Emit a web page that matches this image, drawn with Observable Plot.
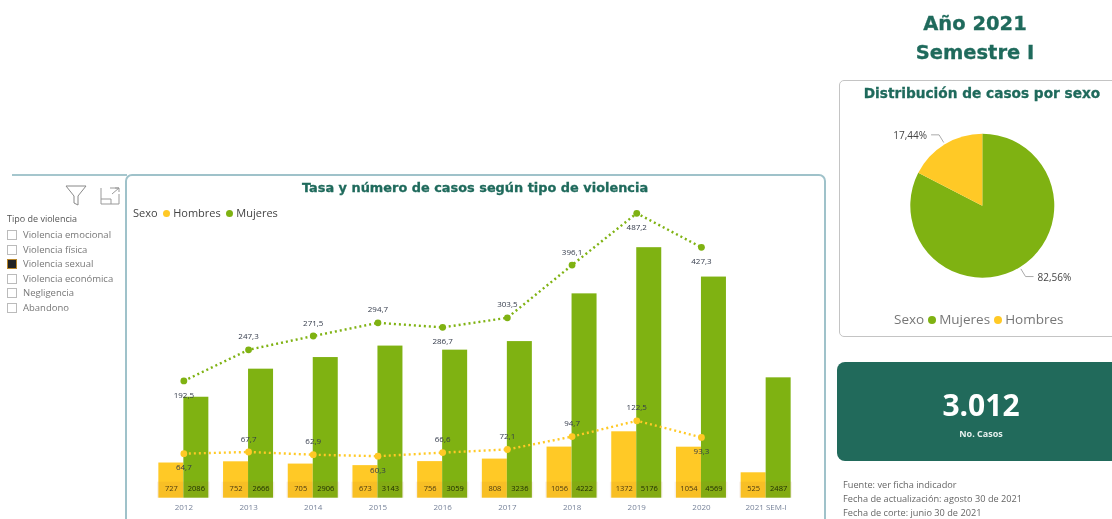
<!DOCTYPE html>
<html lang="es"><head><meta charset="utf-8">
<script src="https://cdn.jsdelivr.net/npm/d3@7"></script>
<script src="https://cdn.jsdelivr.net/npm/@observablehq/plot@0.6"></script>
<style>
html,body{margin:0;padding:0;width:1112px;height:519px;overflow:hidden;background:#fff}
#page{position:absolute;left:0;top:0;width:1112px;height:519px;overflow:hidden;filter:blur(.45px);font-family:"Open Sans",sans-serif}
.abs{position:absolute;white-space:nowrap}
.head{font-family:"DejaVu Sans",sans-serif;font-weight:700;color:#1f6a5c;transform:translateX(-50%);-webkit-text-stroke:.3px #1f6a5c}
.dot{display:inline-block;border-radius:50%;vertical-align:0}
.box{position:absolute;left:7px;width:8px;height:8px;border:1px solid #bbb;background:#fff}
</style></head><body><div id="page"></div>
<script>
const years = ["2012","2013","2014","2015","2016","2017","2018","2019","2020","2021 SEM-I"];
const casosHombres = [727,752,705,673,756,808,1056,1372,1054,525];
const casosMujeres = [2086,2666,2906,3143,3059,3236,4222,5176,4569,2487];
const tasaYears = years.slice(0,9);
const tasaHombres = [64.7,67.7,62.9,60.3,66.6,72.1,94.7,122.5,93.3];
const tasaMujeres = [192.5,247.3,271.5,294.7,286.7,303.5,396.1,487.2,427.3];
const hombresDebajo = ["2012","2015","2020"];
const mujeresDebajo = ["2012","2016","2019","2020"];
const sexos = ["Mujeres","Hombres"];
const pieValues = [82.56,17.44];
const pieLabels = ["82,56%","17,44%"];
const tipos = ["Violencia emocional","Violencia física","Violencia sexual","Violencia económica","Negligencia","Abandono"];
const tipoActivo = "Violencia sexual";
const notas = ["Fuente: ver ficha indicador","Fecha de actualización: agosto 30 de 2021","Fecha de corte: junio 30 de 2021"];
const VERDE="#7fb212", AMARILLO="#ffc926", TEAL="#216a5b";

const page=document.getElementById("page");
function add(html,style,cls="abs"){const d=document.createElement("div");d.className=cls;d.style.cssText=style;d.innerHTML=html;page.appendChild(d);return d;}
const fmt=v=>v.toFixed(1).replace(".",",");
const plotStyle={position:"absolute",left:"0",top:"0",background:"transparent",fontFamily:"'Open Sans',sans-serif"};

// frames
add("","left:12px;top:174px;width:115px;height:0;border-top:2px solid #a5c6cd");
add("","left:125px;top:174px;width:697px;height:400px;border:2px solid #9fc2ca;border-radius:7px;box-sizing:content-box");
add("","left:839px;top:80px;width:320px;height:255px;border:1.5px solid #c4c4c4;border-radius:5px");
add("","left:837px;top:362px;width:320px;height:99px;background:"+TEAL+";border-radius:8px");

// bars
const W=1112,H=519,L=151,R=1112-798;
const cases=years.flatMap((y,i)=>[{y,sexo:"Hombres",v:casosHombres[i]},{y,sexo:"Mujeres",v:casosMujeres[i]}]);
const xOpts={type:"band",domain:years,padding:0,round:false,axis:null};
const barPlot=Plot.plot({width:W,height:H,marginLeft:L,marginRight:R,marginTop:0,marginBottom:0,
  style:plotStyle,
  x:xOpts,
  y:{domain:[0,6151],range:[497.7,200],axis:null},
  marks:[
    Plot.barY(cases.filter(d=>d.sexo==="Hombres"),{x:"y",y:"v",fill:AMARILLO,insetLeft:7.35,insetRight:32.35}),
    Plot.barY(cases.filter(d=>d.sexo==="Mujeres"),{x:"y",y:"v",fill:VERDE,insetLeft:32.35,insetRight:7.35}),
    Plot.barY(years,{x:d=>d,y:()=>330,fill:"#b0601f",fillOpacity:.09,insetLeft:6,insetRight:6}),
    Plot.text(cases.filter(d=>d.sexo==="Hombres"),{x:"y",y:()=>0,text:d=>String(d.v),dx:-12.5,dy:-9.5,fontSize:7.5,fill:"#4a3a10"}),
    Plot.text(cases.filter(d=>d.sexo==="Mujeres"),{x:"y",y:()=>0,text:d=>String(d.v),dx:12.5,dy:-9.5,fontSize:7.5,fill:"#1d2a05"}),
    Plot.text(years,{x:d=>d,y:()=>0,text:d=>d,dy:9,fontSize:8,fill:"#77839a"})
  ]});
page.appendChild(barPlot);

// rates
const tasaH=tasaYears.map((y,i)=>({y,v:tasaHombres[i]}));
const tasaM=tasaYears.map((y,i)=>({y,v:tasaMujeres[i]}));
const lbl=(data,below)=>[
  Plot.text(data.filter(d=>!below.includes(d.y)),{x:"y",y:"v",text:d=>fmt(d.v),dy:-13,fontSize:8,fill:"#333a4a"}),
  Plot.text(data.filter(d=>below.includes(d.y)),{x:"y",y:"v",text:d=>fmt(d.v),dy:14,fontSize:8,fill:"#333a4a"})
];
const linePlot=Plot.plot({width:W,height:H,marginLeft:L,marginRight:R,marginTop:0,marginBottom:0,
  style:plotStyle,
  x:xOpts,
  y:{domain:[0,500],range:[490,205.5],axis:null},
  marks:[
    Plot.line(tasaH,{x:"y",y:"v",stroke:AMARILLO,strokeWidth:2.4,strokeDasharray:"2 3",strokeLinecap:"butt"}),
    Plot.dot(tasaH,{x:"y",y:"v",r:3.4,fill:AMARILLO}),
    Plot.line(tasaM,{x:"y",y:"v",stroke:VERDE,strokeWidth:2.4,strokeDasharray:"2 3",strokeLinecap:"butt"}),
    Plot.dot(tasaM,{x:"y",y:"v",r:3.4,fill:VERDE}),
    ...lbl(tasaH,hombresDebajo),
    ...lbl(tasaM,mujeresDebajo)
  ]});
page.appendChild(linePlot);

// pie
const pieColors={Mujeres:VERDE,Hombres:AMARILLO};
const pieMark=()=>{
  const cx=982.3,cy=205.7,r=72;
  const g=d3.create("svg:g").attr("transform",`translate(${cx},${cy})`);
  const arcs=d3.pie().sort(null)(pieValues);
  const arc=d3.arc().innerRadius(0).outerRadius(r);
  arcs.forEach((a,i)=>{
    g.append("path").attr("d",arc(a)).attr("fill",pieColors[sexos[i]]);
    const m=(a.startAngle+a.endAngle)/2,sx=Math.sin(m),cy_=-Math.cos(m),side=sx>0?1:-1;
    const px=sx*(r+2),py=cy_*(r+2),ex=sx*(r+11),ey=cy_*(r+11);
    g.append("path").attr("d",`M${px},${py}L${ex},${ey}h${side*8}`).attr("fill","none").attr("stroke","#aaa").attr("stroke-width",1);
    g.append("text").attr("x",ex+side*12).attr("y",ey+4).attr("text-anchor",side>0?"start":"end")
      .attr("font-size",10).attr("fill","#444").text(pieLabels[i]);
  });
  return g.node();
};
page.appendChild(Plot.plot({width:W,height:H,margin:0,style:plotStyle,x:{axis:null},y:{axis:null},marks:[pieMark]}));

// text
add("Año 2021","left:975px;top:12px;font-size:19.5px;line-height:24px","abs head");
add("Semestre I","left:975px;top:41px;font-size:19.5px;line-height:24px","abs head");
add("Distribución de casos por sexo","left:982px;top:84px;font-size:13.7px;line-height:18px","abs head");
add("Tasa y número de casos según tipo de violencia","left:475px;top:179px;font-size:12.9px;line-height:17px","abs head");
const dot=(c,s)=>`<span class="dot" style="width:${s}px;height:${s}px;background:${c}"></span>`;
add(`Sexo&nbsp; ${dot(AMARILLO,7)} Hombres&nbsp; ${dot(VERDE,7)} Mujeres`,"left:133px;top:206px;font-size:11px;line-height:14px;color:#444");
add(`Sexo ${dot(VERDE,8)} ${sexos[0]} ${dot(AMARILLO,8)} ${sexos[1]}`,"left:894px;top:310px;font-size:13.5px;line-height:18px;color:#777");
add("3.012","left:981px;top:385px;transform:translateX(-50%);font-size:30px;line-height:40px;font-weight:700;color:#fff");
add("No. Casos","left:981px;top:427px;transform:translateX(-50%);font-size:9px;line-height:14px;font-weight:700;color:#e6f0ee");
notas.forEach((t,i)=>add(t,`left:843px;top:${479+14*i}px;font-size:9.2px;line-height:12px;color:#666`));
add("Tipo de violencia","left:7px;top:213px;font-size:9px;line-height:12px;color:#555");
tipos.forEach((t,i)=>{
  const top=230+14.5*i;
  add("",`top:${top}px;${t===tipoActivo?"background:#222;border-color:#b8862b":""}`,"box");
  add(t,`left:23px;top:${top-1}px;font-size:9.5px;line-height:12px;color:#777`);
});
add(`<svg width="64" height="24" viewBox="0 0 64 24" fill="none" stroke="#888" stroke-width="1"><path d="M1 2H21L13 12V21L9 19V12Z"/><path d="M36 4V20H54V10M36 15H46V20M45 4H54M54 4L47 10M50 4H54V8" stroke="#999"/></svg>`,"left:65px;top:184px;line-height:0");
</script></body></html>
